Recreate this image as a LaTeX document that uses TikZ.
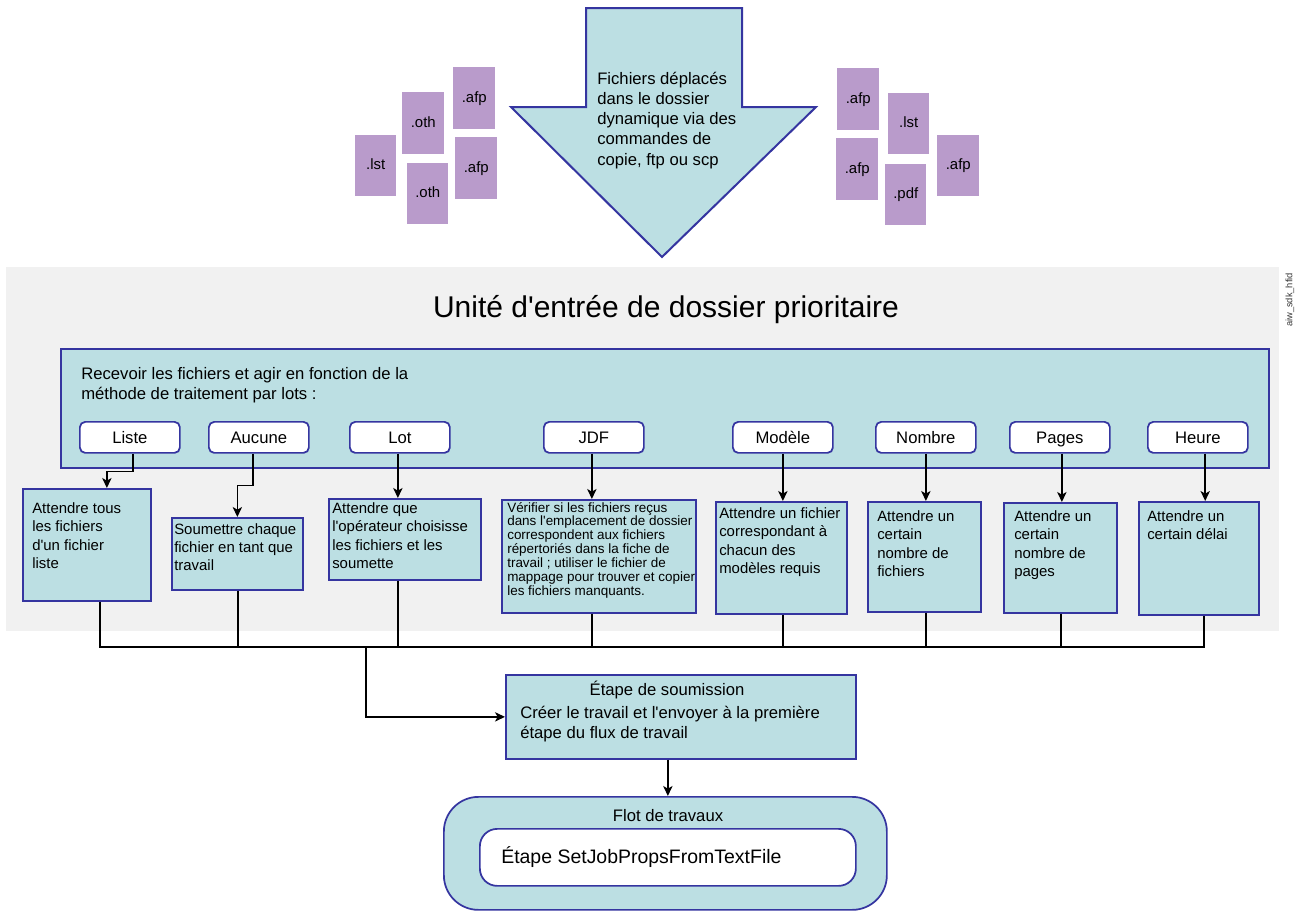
\documentclass[tikz,border=0pt]{standalone}
\usepackage{fontspec}
\setmainfont{Liberation Sans}
\newfontfamily\arial{Liberation Sans}
\usetikzlibrary{arrows.meta,calc}
\definecolor{tealf}{HTML}{BCDFE3}
\definecolor{navyb}{HTML}{3535A0}
\definecolor{bggray}{HTML}{F1F1F1}
\definecolor{filep}{HTML}{B99BCB}
\newcommand\ml[1]{\begin{tabular}[t]{@{}l@{}}#1\end{tabular}}
\begin{document}
\begin{tikzpicture}[x=0.75pt,y=-0.75pt,
  wh/.style 2 args={minimum width=#1*0.75pt, minimum height=#2*0.75pt},
  tbox/.style={draw=navyb, fill=tealf, line width=1.3pt, inner sep=0pt, anchor=north west},
  btn/.style={draw=navyb, fill=white, line width=1.3pt, rounded corners=4pt, inner sep=0pt, anchor=north west, text height=11.8pt, text depth=2.4pt, font=\arial\fontsize{12.5}{15}\selectfont},
  file/.style={fill=filep, inner sep=0pt, anchor=north west, text height=8pt, text depth=2.3pt, font=\arial\fontsize{11.2}{13}\selectfont},
  lbl/.style={anchor=base west, inner sep=0pt},
  conn/.style={line width=1.1pt},
  arr/.style={conn, -{Stealth[length=7.5pt,width=7pt,inset=2pt]}},
  f125/.style={font=\arial\fontsize{12.5}{15}\selectfont},
  f11/.style={font=\arial\fontsize{11.2}{13.7}\selectfont},
  f10/.style={font=\arial\fontsize{10.1}{10.2}\selectfont}]
\useasboundingbox (0,0) rectangle (1296,911);

% big arrow
\path[draw=navyb, fill=tealf, line width=1.5pt, line join=miter]
  (586,8) -- (742,8) -- (742,107) -- (816,107) -- (662,257) -- (511,107) -- (586,107) -- cycle;
\node[lbl, font=\arial\fontsize{12.5}{15.2}\selectfont] (arrtxt) at (597,84)
  {\ml{Fichiers déplacés\\dans le dossier\\dynamique via des\\commandes de\\copie, ftp ou scp}};

% files left
\node[file, wh={42}{62}] (fl1) at (453,67) {.afp};
\node[file, wh={42}{62}] (fl2) at (402,92) {.oth};
\node[file, wh={41}{61}] (fl3) at (355,135) {.lst};
\node[file, wh={42}{62}] (fl4) at (455,137) {.afp};
\node[file, wh={41}{61}] (fl5) at (407,163) {.oth};
% files right
\node[file, wh={42}{62}] (fr1) at (837,68) {.afp};
\node[file, wh={41}{61}] (fr2) at (888,93) {.lst};
\node[file, wh={42}{62}] (fr3) at (836,138) {.afp};
\node[file, wh={41}{61}] (fr4) at (885,164) {.pdf};
\node[file, wh={42}{61}] (fr5) at (937,135) {.afp};

% grey panel
\node[fill=bggray, inner sep=0pt, anchor=north west, wh={1273}{364}] (panel) at (6,267) {};
\node[anchor=base, inner sep=0pt, font=\arial\fontsize{22.5}{26}\selectfont] (title) at (666,317)
  {Unité d'entrée de dossier prioritaire};
\node[rotate=90, inner sep=0pt, text=black!80, font=\arial\fontsize{7}{8}\selectfont] (wm) at (1290,300) {aiw\_sdk\_hfid};

% receive box
\node[tbox, wh={1208}{119}] (recv) at (60,348) {};
\node[lbl, f125] (recvtxt) at (81,379)
  {\ml{Recevoir les fichiers et agir en fonction de la\\méthode de traitement par lots :}};

% buttons
\node[btn, wh={100}{31}] (bListe) at (79,421) {Liste};
\node[btn, wh={100}{31}] (bAucune) at (208,421) {Aucune};
\node[btn, wh={100}{31}] (bLot) at (349,421) {Lot};
\node[btn, wh={100}{31}] (bJDF) at (543,421) {JDF};
\node[btn, wh={100}{31}] (bModele) at (732,421) {Modèle};
\node[btn, wh={100}{31}] (bNombre) at (875,421) {Nombre};
\node[btn, wh={100}{31}] (bPages) at (1009,421) {Pages};
\node[btn, wh={100}{31}] (bHeure) at (1147,421) {Heure};

% method boxes
\node[tbox, wh={128}{112}] (wListe) at (22,488) {};
\node[tbox, wh={131}{72}] (wAucune) at (171,517) {};
\node[tbox, wh={152}{81}] (wLot) at (328,498) {};
\node[tbox, wh={194}{113}] (wJDF) at (501,499) {};
\node[tbox, wh={131}{112}] (wModele) at (715,501) {};
\node[tbox, wh={113}{110}] (wNombre) at (867,501) {};
\node[tbox, wh={113}{110}] (wPages) at (1003,502) {};
\node[tbox, wh={120}{113}] (wHeure) at (1138,501) {};

\node[lbl, f11] (tListe) at (32,513.5) {\ml{Attendre tous\\les fichiers\\d'un fichier\\liste}};
\node[lbl, f11] (tAucune) at (174,534) {\ml{Soumettre chaque\\fichier en tant que\\travail}};
\node[lbl, f11] (tLot) at (332,513.5) {\ml{Attendre que\\l'opérateur choisisse\\les fichiers et les\\soumette}};
\node[lbl, f10] (tJDF) at (507,512) {\ml{Vérifier si les fichiers reçus\\dans l'emplacement de dossier\\correspondent aux fichiers\\répertoriés dans la fiche de\\travail ; utiliser le fichier de\\mappage pour trouver et copier\\les fichiers manquants.}};
\node[lbl, f11] (tModele) at (719,518.5) {\ml{Attendre un fichier\\correspondant à\\chacun des\\modèles requis}};
\node[lbl, f11] (tNombre) at (877,521.5) {\ml{Attendre un\\certain\\nombre de\\fichiers}};
\node[lbl, f11] (tPages) at (1014,521.5) {\ml{Attendre un\\certain\\nombre de\\pages}};
\node[lbl, f11] (tHeure) at (1147,521.5) {\ml{Attendre un\\certain délai}};

% arrows from buttons to boxes
\draw[arr] ([xshift=2.5pt]bListe.south) -- ++(0,18) -| ([xshift=15pt]wListe.north);
\draw[arr] ([xshift=-4.5pt]bAucune.south) -- ++(0,32) -| (wAucune.north);
\draw[arr] ([xshift=-1.5pt]bLot.south) -- ([xshift=-1.5pt]bLot.south |- wLot.north);
\draw[arr] ([xshift=-1.5pt]bJDF.south) -- ([xshift=-1.5pt]bJDF.south |- wJDF.north);
\draw[arr] (bModele.south) -- (bModele.south |- wModele.north);
\draw[arr] (bNombre.south) -- (bNombre.south |- wNombre.north);
\draw[arr] ([xshift=1.5pt]bPages.south) -- ([xshift=1.5pt]bPages.south |- wPages.north);
\draw[arr] ([xshift=5.5pt]bHeure.south) -- ([xshift=5.5pt]bHeure.south |- wHeure.north);

% bus
\coordinate (busL) at (100,647);
\coordinate (busR) at (1204,647);
\coordinate (busJ) at (366,647);
\draw[conn] (wListe.south -| busL) -- (busL) -- (busR) -- (wHeure.south -| busR);
\draw[conn] ([xshift=0.4pt]wAucune.south) -- ([xshift=0.4pt]wAucune.south |- busL);
\draw[conn] ([xshift=-1.5pt]bLot.south |- wLot.south) -- ([xshift=-1.5pt]bLot.south |- busL);
\draw[conn] ([xshift=-1.5pt]bJDF.south |- wJDF.south) -- ([xshift=-1.5pt]bJDF.south |- busL);
\draw[conn] (bModele.south |- wModele.south) -- (bModele.south |- busL);
\draw[conn] (bNombre.south |- wNombre.south) -- (bNombre.south |- busL);
\draw[conn] ([xshift=1pt]bPages.south |- wPages.south) -- ([xshift=1pt]bPages.south |- busL);

% submission step
\node[tbox, wh={350}{84}] (submit) at (505,674) {};
\node[anchor=base, inner sep=0pt, f125] (subtitle) at (667,695) {Étape de soumission};
\node[lbl, f125] (subtxt) at (520,718) {\ml{Créer le travail et l'envoyer à la première\\étape du flux de travail}};
\draw[arr] (busJ) |- (submit.west);

% workflow
\node[draw=navyb, fill=tealf, line width=1.3pt, rounded corners=26pt, inner sep=0pt, anchor=north west, wh={443}{113}] (flot) at (443,796) {};
\node[anchor=base, inner sep=0pt, f125] (flottxt) at (668,821) {Flot de travaux};
\node[draw=navyb, fill=white, line width=1.3pt, rounded corners=13pt, inner sep=0pt, anchor=north west, wh={376}{57}] (inner) at (479,828) {};
\node[lbl, font=\arial\fontsize{14.6}{17}\selectfont] (innertxt) at (501,863) {Étape SetJobPropsFromTextFile};
\draw[arr] (submit.south -| inner.north) -- (flot.north -| inner.north);
\end{tikzpicture}
\end{document}
